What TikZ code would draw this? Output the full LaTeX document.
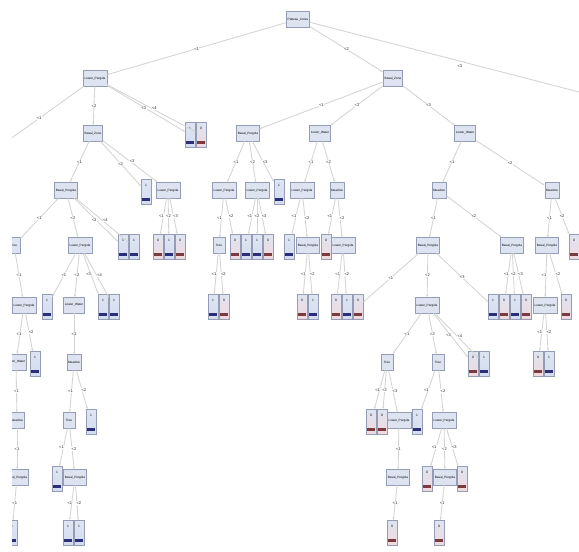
\documentclass[tikz,border=0pt]{standalone}
\usepackage{fontspec}
\setmainfont{Liberation Sans}
\usetikzlibrary{arrows.meta}
\definecolor{nodefill}{HTML}{DDE3F0}
\definecolor{nodedraw}{HTML}{949DB4}
\definecolor{edgecol}{HTML}{D4D4D4}
\definecolor{barblue}{HTML}{2B2F7A}
\definecolor{barred}{HTML}{7A3A40}
\definecolor{leaftop}{HTML}{DFE5F2}
\definecolor{leafpink}{HTML}{EFD9DD}
\definecolor{leafblue}{HTML}{D3DCF0}
\tikzset{
 inode/.style={draw=nodedraw, fill=nodefill, anchor=north, minimum height=16pt, minimum width=12pt, inner sep=1.4pt, font=\fontsize{3.1}{3.5}\selectfont, text=black},
 leafbase/.style={draw=nodedraw, anchor=north, minimum width=10pt, minimum height=25pt, inner sep=0pt, text depth=12pt, font=\fontsize{3.3}{3.5}\selectfont, text=black},
 leafb/.style={leafbase, top color=leaftop, bottom color=leafblue, path picture={\fill[barblue] ([xshift=1.2pt,yshift=3pt]path picture bounding box.south west) rectangle ([xshift=-1.2pt,yshift=5.8pt]path picture bounding box.south east);}},
 leafr/.style={leafbase, top color=leaftop, bottom color=leafpink, path picture={\fill[barred] ([xshift=1.2pt,yshift=3pt]path picture bounding box.south west) rectangle ([xshift=-1.2pt,yshift=5.8pt]path picture bounding box.south east);}},
 edge/.style={draw=edgecol, line width=0.85pt, -{Stealth[length=2.4pt,width=2pt]}},
 lbl/.style={fill=white, inner sep=0.4pt, font=\fontsize{4}{4.5}\selectfont, text=black!85},
}
\begin{document}
\begin{tikzpicture}[x=1pt,y=-1pt]
\useasboundingbox (0,0) rectangle (579,552);
\fill[white] (0,0) rectangle (579,552);
\begin{scope}
\clip (12,0) rectangle (579,552);
% level 0-1
\node[inode] (r) at (298,11) {Plateau\_Jones};
\node[inode] (A) at (95,70) {Lower\_Pergola};
\node[inode] (B) at (393,70) {Basal\_Zone};
\coordinate (rOff) at (610,100);
\coordinate (aOff) at (-5,150);
% level 2
\node[inode] (n1) at (93,125) {Basal\_Zone};
\node[leafb] (L1) at (190,122) {1};
\node[leafr] (L2) at (201,122) {0};
\node[inode] (n14) at (248,125) {Basal\_Pergola};
\node[inode] (n15) at (320,125) {Lower\_Water};
\node[inode] (n16) at (465,125) {Lower\_Water};
% level 3
\node[inode] (n2) at (66,182) {Basal\_Pergola};
\node[leafb] (L3) at (146,179) {1};
\node[inode] (n3) at (168,182) {Lower\_Pergola};
\node[inode] (n17) at (224,182) {Lower\_Pergola};
\node[inode] (n18) at (257,182) {Lower\_Pergola};
\node[leafb] (L18) at (279,179) {1};
\node[inode] (n19) at (302,182) {Lower\_Pergola};
\node[inode] (n20) at (337,182) {Meadow};
\node[inode] (n24) at (439,182) {Meadow};
\node[inode] (n25) at (552,182) {Meadow};
% level 4
\node[inode] (n4) at (14,237) {Tree};
\node[inode] (n5) at (80,237) {Lower\_Pergola};
\node[leafb] (L4) at (123,234) {1};
\node[leafb] (L5) at (134,234) {1};
\node[leafr] (L6) at (158,234) {0};
\node[leafb] (L7) at (169,234) {1};
\node[leafr] (L8) at (180,234) {0};
\node[inode] (n21) at (219,237) {Tree};
\node[leafr] (L19) at (235,234) {0};
\node[leafb] (L20) at (246,234) {1};
\node[leafb] (L21) at (257,234) {1};
\node[leafr] (L22) at (268,234) {0};
\node[leafb] (L23) at (289,234) {1};
\node[inode] (n22) at (308,237) {Basal\_Pergola};
\node[leafr] (L24) at (326,234) {0};
\node[inode] (n23) at (343,237) {Lower\_Pergola};
\node[inode] (n26) at (428,237) {Basal\_Pergola};
\node[inode] (n27) at (512,237) {Basal\_Pergola};
\node[inode] (n28) at (547,237) {Basal\_Pergola};
\node[leafr] (L31) at (574,234) {0};
% level 5
\node[inode] (n6) at (24,297) {Lower\_Pergola};
\node[leafb] (L9) at (47,294) {1};
\node[inode] (n7) at (74,297) {Lower\_Water};
\node[leafb] (L10) at (103,294) {1};
\node[leafb] (L11) at (114,294) {1};
\node[leafb] (L25) at (213,294) {1};
\node[leafr] (L26) at (224,294) {0};
\node[leafr] (L27) at (302,294) {0};
\node[leafb] (L28) at (313,294) {1};
\node[leafr] (L29) at (336,294) {0};
\node[leafb] (L30) at (347,294) {1};
\node[leafr] (L32) at (358,294) {0};
\node[inode] (n29) at (427,297) {Lower\_Pergola};
\node[leafb] (L33) at (493,294) {1};
\node[leafr] (L34) at (504,294) {0};
\node[leafb] (L35) at (515,294) {1};
\node[leafr] (L36) at (526,294) {0};
\node[inode] (n30) at (545,297) {Lower\_Pergola};
\node[leafr] (L37) at (566,294) {0};
% level 6
\node[inode] (n8) at (16,354) {Lower\_Water};
\node[leafb] (L12) at (35,351) {1};
\node[inode] (n11) at (74,354) {Meadow};
\node[inode] (n31) at (387,354) {Tree};
\node[inode] (n32) at (438,354) {Tree};
\node[leafr] (L40) at (473,351) {0};
\node[leafb] (L41) at (484,351) {1};
\node[leafr] (L38) at (538,351) {0};
\node[leafb] (L39) at (549,351) {1};
% level 7
\node[inode] (n9) at (17,412) {Meadow};
\node[inode] (n12) at (69,412) {Tree};
\node[leafb] (L14) at (91,409) {1};
\node[leafr] (L42) at (371,409) {0};
\node[leafr] (L43) at (382,409) {0};
\node[inode] (n33) at (399,412) {Lower\_Pergola};
\node[leafb] (L44) at (417,409) {1};
\node[inode] (n34) at (444,412) {Lower\_Pergola};
% level 8
\node[inode] (n10) at (17,469) {Basal\_Pergola};
\node[leafb] (L15) at (57,466) {1};
\node[inode] (n13) at (75,469) {Basal\_Pergola};
\node[inode] (n35) at (398,469) {Basal\_Pergola};
\node[leafr] (L46) at (427,466) {0};
\node[inode] (n36) at (445,469) {Basal\_Pergola};
\node[leafr] (L47) at (462,466) {0};
% level 9
\node[leafb] (L13) at (12,520) {1};
\node[leafb] (L16) at (68,520) {1};
\node[leafb] (L17) at (79,520) {1};
\node[leafr] (L45) at (392,520) {0};
\node[leafr] (L48) at (439,520) {0};
% edges
\draw[edge] (r) -- node[lbl]{<1} (A);
\draw[edge] (r) -- node[lbl]{<2} (B);
\draw[edge] (r) -- node[lbl,pos=0.5,yshift=-5pt]{<3} (rOff);
\draw[edge] (A) -- node[lbl]{<1} (aOff);
\draw[edge] (A) -- node[lbl]{<2} (n1);
\draw[edge] (A) -- node[lbl,xshift=-2pt]{<3} (L1);
\draw[edge] (A) -- node[lbl,xshift=3pt]{<4} (L2);
\draw[edge] (n1) -- node[lbl]{<1} (n2);
\draw[edge] (n1) -- node[lbl]{<2} (L3);
\draw[edge] (n1) -- node[lbl,xshift=2pt]{<3} (n3);
\draw[edge] (n2) -- node[lbl]{<1} (n4);
\draw[edge] (n2) -- node[lbl]{<2} (n5);
\draw[edge] (n2) -- node[lbl,xshift=-2pt]{<3} (L4);
\draw[edge] (n2) -- node[lbl,xshift=3pt]{<4} (L5);
\draw[edge] (n3) -- node[lbl,xshift=-2pt]{<1} (L6);
\draw[edge] (n3) -- node[lbl]{<2} (L7);
\draw[edge] (n3) -- node[lbl,xshift=2pt]{<3} (L8);
\draw[edge] (n4) -- node[lbl]{<1} (n6);
\draw[edge] (n5) -- node[lbl]{<1} (L9);
\draw[edge] (n5) -- node[lbl]{<2} (n7);
\draw[edge] (n5) -- node[lbl,xshift=-2pt]{<3} (L10);
\draw[edge] (n5) -- node[lbl,xshift=3pt]{<4} (L11);
\draw[edge] (n6) -- node[lbl,xshift=-1pt]{<1} (n8);
\draw[edge] (n6) -- node[lbl,xshift=2pt]{<2} (L12);
\draw[edge] (n7) -- node[lbl]{<1} (n11);
\draw[edge] (n8) -- node[lbl]{<1} (n9);
\draw[edge] (n9) -- node[lbl]{<1} (n10);
\draw[edge] (n10) -- node[lbl]{<1} (L13);
\draw[edge] (n11) -- node[lbl,xshift=-1pt]{<1} (n12);
\draw[edge] (n11) -- node[lbl,xshift=2pt]{<2} (L14);
\draw[edge] (n12) -- node[lbl,xshift=-2pt]{<1} (L15);
\draw[edge] (n12) -- node[lbl,xshift=2pt]{<2} (n13);
\draw[edge] (n13) -- node[lbl,xshift=-2pt]{<1} (L16);
\draw[edge] (n13) -- node[lbl,xshift=2pt]{<2} (L17);
\draw[edge] (B) -- node[lbl]{<1} (n14);
\draw[edge] (B) -- node[lbl]{<2} (n15);
\draw[edge] (B) -- node[lbl]{<3} (n16);
\draw[edge] (n14) -- node[lbl]{<1} (n17);
\draw[edge] (n14) -- node[lbl]{<2} (n18);
\draw[edge] (n14) -- node[lbl,xshift=2pt]{<3} (L18);
\draw[edge] (n15) -- node[lbl]{<1} (n19);
\draw[edge] (n15) -- node[lbl]{<2} (n20);
\draw[edge] (n16) -- node[lbl]{<1} (n24);
\draw[edge] (n16) -- node[lbl]{<2} (n25);
\draw[edge] (n17) -- node[lbl,xshift=-2pt]{<1} (n21);
\draw[edge] (n17) -- node[lbl,xshift=2pt]{<2} (L19);
\draw[edge] (n18) -- node[lbl,xshift=-2pt]{<1} (L20);
\draw[edge] (n18) -- node[lbl]{<2} (L21);
\draw[edge] (n18) -- node[lbl,xshift=2pt]{<3} (L22);
\draw[edge] (n19) -- node[lbl,xshift=-2pt]{<1} (L23);
\draw[edge] (n19) -- node[lbl,xshift=2pt]{<2} (n22);
\draw[edge] (n20) -- node[lbl,xshift=-2pt]{<1} (L24);
\draw[edge] (n20) -- node[lbl,xshift=2pt]{<2} (n23);
\draw[edge] (n21) -- node[lbl,xshift=-2pt]{<1} (L25);
\draw[edge] (n21) -- node[lbl,xshift=2pt]{<2} (L26);
\draw[edge] (n22) -- node[lbl,xshift=-2pt]{<1} (L27);
\draw[edge] (n22) -- node[lbl,xshift=2pt]{<2} (L28);
\draw[edge] (n23) -- node[lbl,xshift=-2pt]{<1} (L29);
\draw[edge] (n23) -- node[lbl,xshift=2pt]{<2} (L30);
\draw[edge] (n24) -- node[lbl]{<1} (n26);
\draw[edge] (n24) -- node[lbl]{<2} (n27);
\draw[edge] (n25) -- node[lbl]{<1} (n28);
\draw[edge] (n25) -- node[lbl]{<2} (L31);
\draw[edge] (n26) -- node[lbl]{<1} (L32);
\draw[edge] (n26) -- node[lbl]{<2} (n29);
\draw[edge] (n26) -- node[lbl]{<3} (L33);
\draw[edge] (n27) -- node[lbl,xshift=-2pt]{<1} (L34);
\draw[edge] (n27) -- node[lbl]{<2} (L35);
\draw[edge] (n27) -- node[lbl,xshift=2pt]{<3} (L36);
\draw[edge] (n28) -- node[lbl,xshift=-2pt]{<1} (n30);
\draw[edge] (n28) -- node[lbl,xshift=2pt]{<2} (L37);
\draw[edge] (n29) -- node[lbl]{<1} (n31);
\draw[edge] (n29) -- node[lbl]{<2} (n32);
\draw[edge] (n29) -- node[lbl,xshift=-2pt]{<3} (L40);
\draw[edge] (n29) -- node[lbl,xshift=3pt]{<4} (L41);
\draw[edge] (n30) -- node[lbl,xshift=-2pt]{<1} (L38);
\draw[edge] (n30) -- node[lbl,xshift=2pt]{<2} (L39);
\draw[edge] (n31) -- node[lbl,xshift=-2pt]{<1} (L42);
\draw[edge] (n31) -- node[lbl]{<2} (L43);
\draw[edge] (n31) -- node[lbl,xshift=2pt]{<3} (n33);
\draw[edge] (n32) -- node[lbl,xshift=-2pt]{<1} (L44);
\draw[edge] (n32) -- node[lbl,xshift=2pt]{<2} (n34);
\draw[edge] (n33) -- node[lbl]{<1} (n35);
\draw[edge] (n34) -- node[lbl,xshift=-2pt]{<1} (L46);
\draw[edge] (n34) -- node[lbl]{<2} (n36);
\draw[edge] (n34) -- node[lbl,xshift=2pt]{<3} (L47);
\draw[edge] (n35) -- node[lbl]{<1} (L45);
\draw[edge] (n36) -- node[lbl]{<1} (L48);
\end{scope}
\end{tikzpicture}
\end{document}
